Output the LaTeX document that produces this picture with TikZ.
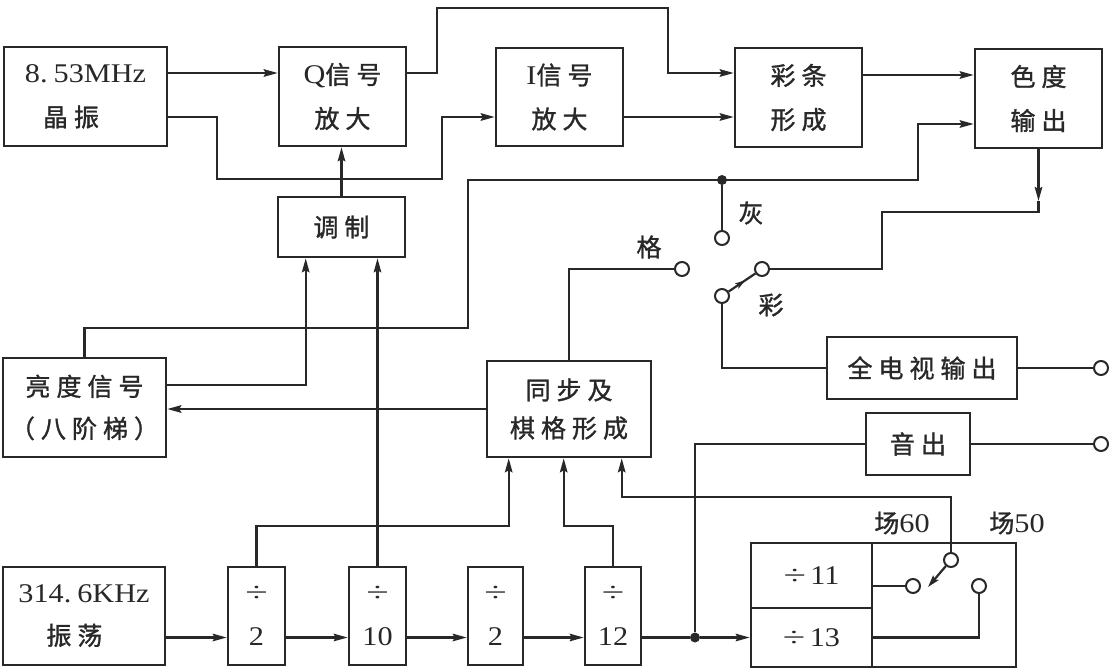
\documentclass[tikz,border=0pt]{standalone}
\usepackage{graphicx}
\usepackage{fontspec}
\setmainfont{Liberation Serif}[FakeStretch=1.12]
\newfontfamily\cjk{Noto Sans CJK SC}[Scale=0.926,LetterSpace=24,FakeBold=1.2]
\newcommand\ZH[1]{{\cjk #1}}
\newcommand\DIV{\scalebox{1.35}[1]{÷}}
\usetikzlibrary{arrows.meta,decorations.markings}
\definecolor{ink}{RGB}{40,40,40}
\begin{document}
\begin{tikzpicture}[x=1pt,y=-1pt,
  every node/.style={text=ink},
  box/.style={draw=ink, line width=2.6pt, inner sep=0pt, align=center,
              font=\fontsize{27}{44}\selectfont},
  wire/.style={draw=ink, line width=2.2pt},
  arr/.style={wire, -{Stealth[length=14pt,width=7.5pt,inset=2pt]}},
  smallarr/.style={wire, -{Stealth[length=12pt,width=7pt,inset=2pt]}},
  term/.style={circle, draw=ink, line width=2pt, fill=white, minimum size=14pt, inner sep=0pt},
  dot/.style={circle, fill=ink, minimum size=10pt, inner sep=0pt},
  lbl/.style={inner sep=0pt, font=\fontsize{27}{30}\selectfont},
]
\fill[white] (0,0) rectangle (1110,670);
\useasboundingbox (0,0) rectangle (1110,670);

% ---------- level coordinates ----------
\coordinate (L1) at (0,73);
\coordinate (L1b) at (0,75);
\coordinate (L2) at (0,117);
\coordinate (L3) at (0,124);
\coordinate (yA) at (0,201);
\coordinate (yB) at (0,212);
\coordinate (yC) at (0,385);
\coordinate (yD) at (0,526);
\coordinate (yE) at (0,497);

% ---------- top row ----------
\node[box, minimum width=163pt, minimum height=99pt, align=left] (osc1) at (85.5,96.5)
  {8.\hspace{6pt}53MHz\\\hspace*{18pt}\ZH{晶振}};
\node[box, minimum width=127pt, minimum height=99pt] (qamp) at (342.5,96.5)
  {Q\ZH{信号}\\\ZH{放大}};
\node[box, minimum width=127pt, minimum height=98pt] (iamp) at (559.5,97)
  {I\ZH{信号}\\\ZH{放大}};
\node[box, minimum width=127pt, minimum height=99pt] (bar) at (798.5,97.5)
  {\ZH{彩条}\\\ZH{形成}};
\node[box, minimum width=127pt, minimum height=99pt] (chroma) at (1038.5,98.5)
  {\ZH{色度}\\\ZH{输出}};

% ---------- middle ----------
\node[box, minimum width=127pt, minimum height=60pt] (mod) at (341.5,227) {\ZH{调制}};
\node[box, minimum width=163pt, minimum height=99pt, font=\fontsize{27}{42}\selectfont] (luma) at (84.5,407.5)
  {\ZH{亮度信号}\\\ZH{（八阶梯）}};
\node[box, minimum width=164pt, minimum height=96pt, font=\fontsize{27}{38}\selectfont] (sync) at (569,409)
  {\ZH{同步及}\\\ZH{棋格形成}};
\node[box, minimum width=190pt, minimum height=62pt] (tvout) at (922,368) {\ZH{全电视输出}};
\node[box, minimum width=104pt, minimum height=62pt] (sound) at (918,444) {\ZH{音出}};

% ---------- bottom row ----------
\node[box, minimum width=162pt, minimum height=98pt, align=left, font=\fontsize{27}{42}\selectfont] (osc2) at (84,616)
  {314.\hspace{6pt}6KHz\\\hspace*{28pt}\ZH{振荡}};
\node[box, minimum width=57pt, minimum height=98pt] (d2a) at (256.5,616) {\DIV\\2};
\node[box, minimum width=57pt, minimum height=98pt] (d10) at (377.5,616) {\DIV\\10};
\node[box, minimum width=55pt, minimum height=98pt] (d2b) at (495.5,616) {\DIV\\2};
\node[box, minimum width=56pt, minimum height=98pt] (d12) at (613,616) {\DIV\\12};
\node[box, minimum width=121pt, minimum height=65pt] (d11) at (811.5,575.5) {\DIV\,11};
\node[box, minimum width=121pt, minimum height=59pt] (d13) at (811.5,637.5) {\DIV\,13};
\node[box, minimum width=144pt, minimum height=124pt] (fsel) at (944,605) {};

% ---------- terminals, dots, labels ----------
\node[dot] (j1) at (722,180) {};
\node[dot] (j2) at (695,637.5) {};
\node[term] (tgray) at (722,238) {};
\node[term] (tgrid) at (682,269) {};
\node[term] (tcom) at (722,296) {};
\node[term] (tcol) at (762,269) {};
\node[term] (otv) at (1101,368) {};
\node[term] (osnd) at (1101,444) {};
\node[term] (t60) at (913,586) {};
\node[term] (tfc) at (951,560) {};
\node[term] (t50) at (979,586) {};
\coordinate (blade) at (928,587);

\node[lbl] (lgray) at (751,213) {\ZH{灰}};
\node[lbl] (lgrid) at (649,247) {\ZH{格}};
\node[lbl] (lcol) at (771,305) {\ZH{彩}};
\node[lbl] (l60) at (902,523) {\ZH{场}60};
\node[lbl] (l50) at (1017,523) {\ZH{场}50};

% ---------- connectors: top ----------
\draw[arr] (osc1.east |- L1) -- (qamp.west |- L1);
\draw[arr] (osc1.east |- L2) -- (217,117) -- (217,179) -- (442,179) -- (442,117) -- (iamp.west |- L2);
\draw[arr] (qamp.east |- L1) -- (437,73) -- (437,8) -- (668,8) -- (668,73) -- (bar.west |- L1);
\draw[arr] (iamp.east |- L2) -- (bar.west |- L2);
\draw[arr] (bar.east |- L1b) -- (chroma.west |- L1b);
\draw[arr] (luma.north) -- (84.5,328) -- (468,328) -- (468,180) -- (918,180) -- (918,124) -- (chroma.west |- L3);
\draw[wire] (j1) -- (tgray);
\draw[arr] (mod.north) -- (mod.north |- qamp.south);

% ---------- switch ----------
\draw[wire] (sync.north) |- (tgrid);
\draw[wire, postaction={decorate}, decoration={markings,
   mark=at position 0.62 with {\arrow{Stealth[length=10pt,width=6pt,inset=2pt]}}}] (tcom) -- (tcol);
\draw[arr] (chroma.south) -- (chroma.south |- yA);
\draw[wire] (chroma.south |- yA) -- (chroma.south |- yB) -- (882,212) -- (882,269) -- (tcol);
\draw[wire] (tcom) |- (tvout.west);
\draw[wire] (tvout) -- (otv);
\draw[wire] (sound) -- (osnd);

% ---------- luma / modulator ----------
\draw[arr] (sync.west) -- (luma.east |- sync.west);
\draw[arr] (luma.east |- yC) -| ([xshift=29pt]mod.south west);
\draw[arr] (d10.north) -- (d10.north |- mod.south);

% ---------- dividers to sync ----------
\draw[arr] (d2a.north) |- ([xshift=23pt]sync.south west |- yD) -- ([xshift=23pt]sync.south west);
\draw[arr] (d12.north) |- ([xshift=78pt]sync.south west |- yD) -- ([xshift=78pt]sync.south west);
\draw[arr] (tfc) |- ([xshift=136pt]sync.south west |- yE) -- ([xshift=136pt]sync.south west);

% ---------- bottom chain ----------
\draw[arr] (osc2.east |- d13) -- (d2a.west |- d13);
\draw[arr] (d2a.east |- d13) -- (d10.west |- d13);
\draw[arr] (d10.east |- d13) -- (d2b.west |- d13);
\draw[arr] (d2b.east |- d13) -- (d12.west |- d13);
\draw[wire] (d12.east |- d13) -- (j2);
\draw[arr] (j2) -- (d13.west);
\draw[wire] (j2) |- (sound.west);

% ---------- field selector ----------
\draw[wire] (d11.east |- t60) -- (t60);
\draw[wire] (d13.east) -| (t50);
\draw[smallarr] (tfc) -- (blade);
\end{tikzpicture}
\end{document}
